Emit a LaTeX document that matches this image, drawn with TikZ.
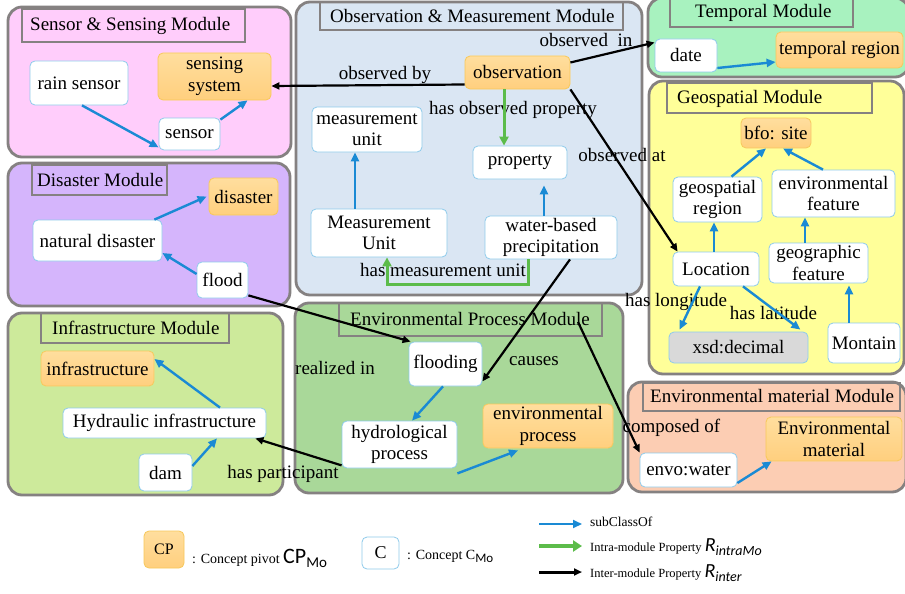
\documentclass[tikz,border=0pt]{standalone}
\usepackage{fontspec}
\setmainfont{Liberation Serif}
\newfontfamily\carl{Carlito}
\usetikzlibrary{arrows.meta,calc}
\definecolor{sensorpink}{HTML}{FFCDFB}
\definecolor{obsblue}{HTML}{DAE6F3}
\definecolor{tempgreen}{HTML}{A8F2BF}
\definecolor{geoyellow}{HTML}{FFFF99}
\definecolor{dispurple}{HTML}{D5B5FC}
\definecolor{infragreen}{HTML}{CDEA9B}
\definecolor{epgreen}{HTML}{A9D899}
\definecolor{emorange}{HTML}{FCCDB3}
\definecolor{modgray}{HTML}{858181}
\definecolor{cblue}{HTML}{8FCBEB}
\definecolor{porange}{HTML}{F7C85A}
\definecolor{ptop}{HTML}{FFDE9E}
\definecolor{pbot}{HTML}{FFCF7E}
\definecolor{subblue}{HTML}{1A8AD4}
\definecolor{intragreen}{HTML}{5CBC4A}
\definecolor{xgray}{HTML}{D9D9D9}
\begin{document}
\begin{tikzpicture}[x=1pt,y=-1pt,
  module/.style={draw=modgray, line width=2.8pt, rounded corners=14pt},
  titlebox/.style={draw=modgray, line width=2.8pt},
  ttext/.style={anchor=west, inner sep=0pt, font=\rmfamily\fontsize{19}{22}\selectfont},
  cnode/.style={draw=cblue, fill=white, line width=0.8pt, rounded corners=5pt, align=center, inner sep=1pt, font=\rmfamily\fontsize{19}{21.5}\selectfont},
  pnode/.style={cnode, draw=porange, top color=ptop, bottom color=pbot},
  gnode/.style={cnode, fill=xgray},
  lbl/.style={inner sep=0pt, font=\rmfamily\fontsize{19}{22}\selectfont},
  sub/.style={draw=subblue, line width=2.4pt, -{Triangle[length=9pt,width=8pt]}},
  intra/.style={draw=intragreen, line width=3pt, -{Triangle[length=9pt,width=9pt]}},
  inter/.style={draw=black, line width=2.2pt, -{Triangle[length=8pt,width=7pt]}},
  legtxt/.style={anchor=base west, inner sep=0pt}
]
\useasboundingbox (0,0) rectangle (905,594);
\fill[white] (0,0) rectangle (905,594);

% ---------- modules ----------
\draw[module, fill=sensorpink] (8,7) rectangle (291,157);
\draw[titlebox] (22,9) rectangle (245,42);
\node[ttext] (tSensor) at (30,25.5) {Sensor \& Sensing Module};

\draw[module, fill=obsblue] (296,2) rectangle (642,295);
\draw[titlebox] (320,2) rectangle (623,30);
\node[ttext] (tObs) at (330,16) {Observation \& Measurement Module};

\draw[module, fill=tempgreen] (648,-2) rectangle (909,77);
\draw[titlebox] (670,-1) rectangle (853,27);
\node[ttext] (tTemp) at (695,13) {Temporal Module};

\draw[module, fill=geoyellow] (649,81) rectangle (904,374);
\draw[titlebox] (667,83) rectangle (872,113);
\node[ttext] (tGeo) at (677,99) {Geospatial Module};

\draw[module, fill=dispurple] (8,163) rectangle (290,306);
\draw[titlebox] (32,165) rectangle (167,195);
\node[ttext] (tDis) at (37,180) {Disaster Module};

\draw[module, fill=infragreen] (8,313) rectangle (283,495);
\draw[titlebox] (41,313) rectangle (229,343);
\node[ttext] (tInfra) at (52,328) {Infrastructure Module};

\draw[module, fill=epgreen] (295,303) rectangle (623,493);
\draw[titlebox] (339,303) rectangle (602,336);
\node[ttext] (tEP) at (350,319) {Environmental Process Module};

\draw[module, fill=emorange] (628,382) rectangle (906,492);
\draw[titlebox] (643,383) rectangle (900,411);
\node[ttext] (tEM) at (650,396) {Environmental material Module};

% ---------- concept nodes ----------
\node[cnode, minimum width=98pt, minimum height=44pt] (rain) at (79,83) {rain sensor};
\node[pnode, minimum width=113pt, minimum height=47pt] (sensing) at (214.5,76.5) {sensing\\system};
\node[cnode, minimum width=61pt, minimum height=32pt] (sensor) at (189.5,134) {sensor};

\node[pnode, minimum width=105pt, minimum height=33pt] (observation) at (517.5,72.5) {observation};
\node[cnode, minimum width=110pt, minimum height=45pt] (munit) at (367,129.5) {measurement\\unit};
\node[cnode, minimum width=94pt, minimum height=33pt] (property) at (520,162.5) {property};
\node[cnode, minimum width=136pt, minimum height=48pt] (MUnit) at (379,233) {Measurement\\Unit};
\node[cnode, minimum width=132pt, minimum height=43pt] (wbp) at (551,237.5) {water-based\\precipitation};

\node[cnode, minimum width=62pt, minimum height=33pt] (date) at (686,55.5) {date};
\node[pnode, minimum width=127pt, minimum height=36pt] (tr) at (839.5,50) {temporal region};

\node[pnode, minimum width=70pt, minimum height=30pt] (bfo) at (776,133) {bfo: site};
\node[cnode, minimum width=89pt, minimum height=45pt] (georeg) at (717.5,199.5) {geospatial\\region};
\node[cnode, minimum width=123pt, minimum height=47pt] (envfeat) at (833.5,193.5) {environmental\\feature};
\node[cnode, minimum width=86pt, minimum height=34pt] (loc) at (716,269) {Location};
\node[cnode, minimum width=99pt, minimum height=40pt] (geofeat) at (818.5,263) {geographic\\feature};
\node[gnode, minimum width=139pt, minimum height=31pt] (xsd) at (738.5,347.5) {xsd:decimal};
\node[cnode, minimum width=72pt, minimum height=40pt] (montain) at (864,343) {Montain};

\node[pnode, minimum width=69pt, minimum height=37pt] (disaster) at (243.5,196.5) {disaster};
\node[cnode, minimum width=129pt, minimum height=41pt] (natdis) at (97.5,240.5) {natural disaster};
\node[cnode, minimum width=51pt, minimum height=36pt] (flood) at (222.5,280) {flood};

\node[pnode, minimum width=113pt, minimum height=35pt] (infra) at (97.5,368.5) {infrastructure};
\node[cnode, minimum width=203pt, minimum height=30pt] (hydraulic) at (164.5,423) {Hydraulic infrastructure};
\node[cnode, minimum width=53pt, minimum height=37pt] (dam) at (165.5,472.5) {dam};

\node[cnode, minimum width=73pt, minimum height=44pt] (flooding) at (445.5,364) {flooding};
\node[cnode, minimum width=115pt, minimum height=47pt] (hydro) at (399.5,444.5) {hydrological\\process};
\node[pnode, minimum width=130pt, minimum height=44pt] (envproc) at (548,426) {environmental\\process};

\node[cnode, minimum width=97pt, minimum height=34pt] (envowater) at (688.5,470) {envo:water};
\node[pnode, minimum width=136pt, minimum height=44pt] (envmat) at (834,439) {Environmental\\material};

\coordinate (epm) at (578,322);

% ---------- labels ----------
\node[lbl] (lObsBy) at (385,75) {observed by};
\node[lbl] (lObsIn) at (586,40) {observed\ \ in};
\node[lbl] (lObsAt) at (622,155) {observed at};
\node[lbl] (lHasObs) at (513,110) {has observed property};
\node[lbl] (lHasMU) at (443,270) {has measurement unit};
\node[lbl] (lCauses) at (534,361) {causes};
\node[lbl] (lRealized) at (335,368) {realized in};
\node[lbl] (lHasPart) at (283,474) {has participant};
\node[lbl] (lLong) at (676,302) {has longitude};
\node[lbl] (lLat) at (773.5,313) {has latitude};
\node[lbl] (lComposed) at (671.5,428) {composed of};

% ---------- subClassOf ----------
\draw[sub] ([xshift=3pt]rain.south) -- ([yshift=3pt]sensor.south west);
\draw[sub] ([yshift=-2pt]sensor.north east) -- ([xshift=33pt]sensing.south);
\draw[sub] ([xshift=-24pt]MUnit.north) -- ([xshift=-12pt]munit.south);
\draw[sub] ([xshift=-7pt]wbp.north) -- ([xshift=24pt,yshift=-6pt]property.south);
\draw[sub] ([yshift=-12.5pt]date.east) -- ([yshift=-12pt]tr.west);
\draw[sub] ([xshift=14pt]georeg.north) -- ([xshift=-10pt]bfo.south);
\draw[sub] ([xshift=-10.5pt]envfeat.north) -- ([xshift=7pt]bfo.south);
\draw[sub] ([xshift=-2pt]loc.north) -- ([xshift=-3.5pt]georeg.south);
\draw[sub] ([xshift=-13.5pt]geofeat.north) -- ([xshift=-28.5pt]envfeat.south);
\draw[sub] ([xshift=-15pt]montain.north) -- ([xshift=30.5pt,yshift=-2pt]geofeat.south);
\draw[sub] ([xshift=-16pt]loc.south) -- ([xshift=11pt,yshift=2pt]xsd.north west);
\draw[sub] ([xshift=27pt]loc.south) -- ([xshift=-8pt,yshift=2pt]xsd.north east);
\draw[sub] ([xshift=-8pt]natdis.north east) -- ([xshift=-2pt]disaster.west);
\draw[sub] ([yshift=6pt]flood.west) -- ([yshift=-12.5pt]natdis.east);
\draw[sub] ([xshift=55.5pt]hydraulic.north) -- ([yshift=9.5pt]infra.east);
\draw[sub] ([yshift=6.5pt]dam.east) -- ([xshift=52.5pt]hydraulic.south);
\draw[sub] ([xshift=-2.5pt]flooding.south) -- ([xshift=12.5pt]hydro.north);
\draw[sub] ([yshift=-5pt]hydro.south east) -- ([xshift=-30pt,yshift=-2pt]envproc.south);
\draw[sub] ([yshift=-13pt]envowater.east) -- ([xshift=6pt]envmat.south west);

% ---------- intra-module ----------
\draw[intra] ([xshift=-13.5pt]observation.south) -- ([xshift=-16pt]property.north);
\draw[intra] ([xshift=-23pt]wbp.south) -- ++(0,25) -| ([xshift=8pt]MUnit.south);

% ---------- inter-module ----------
\draw[inter] ([yshift=-12pt]observation.west) -- ([yshift=-9.5pt]sensing.east);
\draw[inter] ([yshift=10pt]observation.east) -- ([yshift=13pt]date.west);
\draw[inter] (observation.south east) -- ([xshift=5pt]loc.north west);
\draw[inter] ([xshift=19pt]wbp.south) -- ([yshift=5pt]flooding.south east);
\draw[inter] ([yshift=3pt]flood.south east) -- ([xshift=2pt]flooding.north west);
\draw[inter] ([yshift=3pt]hydro.south west) -- ([xshift=-11pt]hydraulic.south east);
\draw[inter] (epm) -- (envowater.north west);

% ---------- legend ----------
\node[pnode, minimum width=40pt, minimum height=37pt, font=\rmfamily\fontsize{16}{18}\selectfont] (legCP) at (164,549.5) {CP};
\node[legtxt] (legCPt) at (192,563) {{\fontsize{14}{16}\selectfont : Concept pivot }{\carl\fontsize{22}{24}\selectfont CP\raisebox{-4pt}{\fontsize{15}{16}\selectfont Mo}}};
\node[cnode, minimum width=37pt, minimum height=32pt, font=\rmfamily\fontsize{18}{20}\selectfont] (legC) at (380.5,553) {C};
\node[legtxt] (legCt) at (407,559) {\fontsize{14}{16}\selectfont : Concept C\raisebox{-3pt}{\carl\fontsize{13}{14}\selectfont Mo}};

\coordinate (la1) at (539,524); \coordinate (la2) at (582,524);
\coordinate (lb1) at (539,546); \coordinate (lb2) at (582,546);
\coordinate (lc1) at (539,572); \coordinate (lc2) at (582,572);
\draw[sub, line width=2pt] (la1) -- (la2);
\draw[intra, line width=4.5pt, -{Triangle[length=9pt,width=11pt]}] (lb1) -- (lb2);
\draw[inter, line width=3pt] (lc1) -- (lc2);
\node[legtxt] (legSub) at (590,526) {\fontsize{13.5}{15}\selectfont subClassOf};
\node[legtxt] (legIntra) at (590,551) {\fontsize{12.5}{14}\selectfont Intra-module Property {\carl\itshape\fontsize{20}{22}\selectfont R\raisebox{-4pt}{\fontsize{14}{15}\selectfont intraMo}}};
\node[legtxt] (legInter) at (590,577) {\fontsize{12.5}{14}\selectfont Inter-module Property {\carl\itshape\fontsize{20}{22}\selectfont R\raisebox{-4pt}{\fontsize{14}{15}\selectfont inter}}};
\end{tikzpicture}
\end{document}
